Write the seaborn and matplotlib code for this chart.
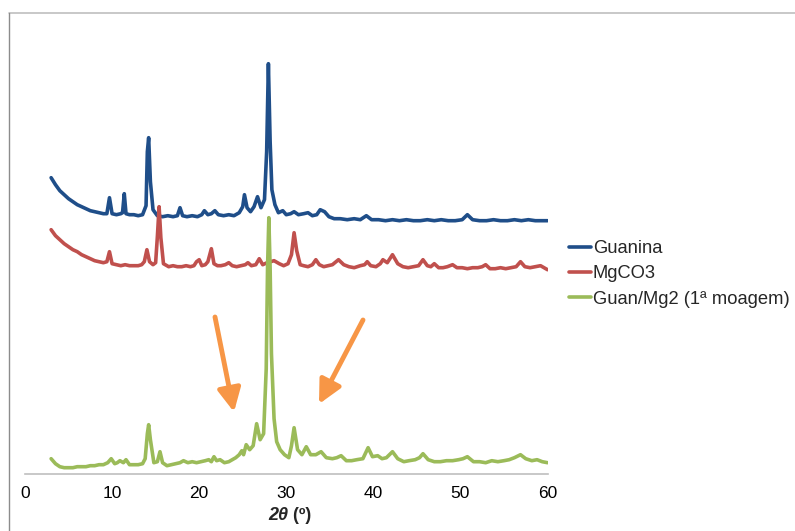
import matplotlib
matplotlib.use("Agg")
import matplotlib.pyplot as plt
import seaborn as sns
import pandas as pd
from matplotlib.lines import Line2D

# ---------------- data ----------------
series_names = ["Guanina", "MgCO3", "Guan/Mg2 (1ª moagem)"]
series_colors = ["#1F4E89", "#C0504D", "#9BBB59"]

guanina_x = [3.0, 3.5, 4.0, 4.5, 5.0, 5.5, 6.0, 6.5, 7.0, 7.5, 8.0, 8.5, 9.0, 9.4, 9.7, 10.0, 10.5, 11.0, 11.2, 11.4,
             11.6, 12.0, 12.5, 13.0, 13.5, 13.9, 14.05, 14.2, 14.4, 14.7, 15.2, 15.8, 16.4, 17.0, 17.5, 17.8, 18.1, 18.6,
             19.2, 19.8, 20.3, 20.6, 21.0, 21.4, 21.8, 22.2, 22.8, 23.4, 24.0, 24.6, 25.0, 25.2, 25.5, 25.9, 26.3, 26.7,
             27.1, 27.5, 27.75, 27.95, 28.15, 28.35, 28.7, 29.1, 29.6, 30.0, 30.5, 30.9, 31.4, 32.0, 32.5, 33.0, 33.5,
             33.9, 34.4, 34.9, 35.5, 36.2, 37.0, 37.8, 38.5, 39.2, 39.8, 40.6, 41.4, 42.2, 43.0, 43.8, 44.6, 45.4, 46.2,
             47.0, 47.8, 48.6, 49.4, 50.2, 50.8, 51.4, 52.2, 53.0, 53.8, 54.6, 55.4, 56.2, 57.0, 57.8, 58.6, 59.3, 60.0]
guanina_y = [296, 289, 283, 279, 275, 272, 269, 267, 265, 263, 262, 261, 260, 260, 276, 260, 259, 260, 261, 280,
             260, 259, 259, 258, 259, 268, 322, 336, 292, 264, 258, 257, 258, 257, 258, 266, 258, 257,
             258, 257, 259, 263, 259, 260, 263, 259, 258, 259, 258, 261, 267, 279, 266, 262, 267, 277,
             266, 274, 322, 410, 332, 284, 269, 261, 263, 259, 260, 262, 259, 260, 261, 258, 259,
             264, 262, 257, 255, 255, 254, 255, 254, 258, 254, 254, 253, 254, 253, 254, 253, 253, 254,
             253, 254, 253, 253, 254, 259, 254, 253, 253, 254, 253, 253, 254, 253, 254, 253, 253, 253]

mgco3_x = [3.0, 3.5, 4.0, 4.5, 5.0, 5.5, 6.0, 6.5, 7.0, 7.5, 8.0, 8.5, 9.0, 9.4, 9.7, 10.0, 10.5, 11.0, 11.5, 12.0,
           12.5, 13.0, 13.4, 13.7, 14.0, 14.3, 14.7, 15.0, 15.2, 15.4, 15.6, 15.9, 16.5, 17.0, 17.5, 18.0, 18.5, 19.0,
           19.4, 19.7, 20.0, 20.3, 20.7, 21.0, 21.4, 21.7, 22.1, 22.5, 23.0, 23.4, 23.8, 24.3, 24.8, 25.3, 25.6, 26.0,
           26.5, 26.9, 27.3, 27.8, 28.2, 28.6, 29.2, 29.7, 30.2, 30.6, 30.9, 31.2, 31.6, 32.0, 32.5, 33.0, 33.4, 33.8,
           34.3, 34.8, 35.3, 36.0, 36.6, 37.2, 37.8, 38.5, 39.0, 39.3, 39.7, 40.3, 40.8, 41.1, 41.6, 42.2, 42.8, 43.4,
           44.0, 44.6, 45.2, 45.7, 46.2, 46.6, 47.0, 47.5, 48.0, 48.5, 49.1, 49.6, 50.2, 50.8, 51.4, 52.0, 52.5, 52.9,
           53.4, 54.0, 54.6, 55.2, 55.8, 56.4, 56.9, 57.4, 58.0, 58.6, 59.2, 59.6, 60.0]
mgco3_y = [244, 238, 234, 230, 227, 224, 222, 219, 217, 215, 213, 212, 211, 212, 222, 210, 209, 208, 209, 208,
           208, 208, 209, 212, 224, 212, 209, 211, 237, 267, 236, 210, 207, 208, 207, 207, 208, 207,
           208, 212, 214, 208, 209, 212, 225, 210, 208, 208, 209, 211, 208, 207, 208, 209, 211, 208,
           209, 215, 209, 211, 212, 213, 210, 208, 210, 219, 241, 223, 209, 208, 207, 209, 214, 209,
           207, 208, 209, 214, 209, 207, 206, 208, 209, 212, 208, 207, 210, 214, 211, 219, 210, 207,
           206, 207, 208, 214, 208, 207, 210, 206, 206, 207, 209, 206, 206, 205, 206, 206, 207, 209,
           205, 205, 206, 205, 206, 207, 212, 207, 206, 207, 208, 206, 204]

guanmg_x = [3.0, 3.5, 4.0, 4.5, 5.0, 5.5, 6.0, 6.5, 7.0, 7.5, 8.0, 8.5, 9.0, 9.5, 9.9, 10.3, 10.6, 10.9, 11.3, 11.6,
            12.0, 12.5, 13.0, 13.5, 13.8, 14.05, 14.2, 14.4, 14.8, 15.2, 15.5, 15.8, 16.3, 16.8, 17.3, 17.8, 18.2,
            18.7, 19.2, 19.7, 20.2, 20.7, 21.1, 21.4, 21.7, 22.0, 22.4, 22.9, 23.4, 23.8, 24.2, 24.6, 24.9, 25.1,
            25.4, 25.8, 26.2, 26.6, 27.0, 27.4, 27.7, 27.85, 28.0, 28.15, 28.3, 28.6, 28.9, 29.3, 29.8, 30.3, 30.6,
            30.9, 31.3, 31.8, 32.3, 32.8, 33.4, 34.0, 34.6, 35.3, 35.8, 36.3, 36.9, 37.5, 38.1, 38.8, 39.4, 39.9,
            40.5, 41.0, 41.5, 42.2, 42.8, 43.5, 44.1, 44.8, 45.3, 45.7, 46.3, 47.0, 47.7, 48.4, 49.1, 49.8, 50.3,
            50.8, 51.5, 52.2, 52.9, 53.6, 54.3, 55.0, 55.6, 56.2, 56.9, 57.5, 58.2, 58.8, 59.4, 60.0]
guanmg_y = [15, 10, 7, 6, 6, 6, 7, 7, 7, 8, 8, 9, 9, 11, 15, 10, 11, 13, 11, 14,
            9, 9, 9, 10, 15, 40, 49, 34, 11, 12, 22, 11, 8, 9, 10, 11, 13,
            11, 12, 11, 12, 13, 14, 12, 17, 13, 14, 11, 12, 14, 16, 19, 23, 19,
            29, 24, 28, 50, 34, 40, 105, 205, 256, 205, 120, 55, 32, 24, 19, 16, 28,
            46, 24, 19, 27, 19, 19, 22, 16, 15, 16, 18, 13, 13, 14, 15, 26, 17,
            18, 15, 16, 22, 15, 12, 13, 14, 16, 20, 14, 12, 12, 13, 13, 14, 15,
            17, 12, 12, 11, 13, 12, 13, 14, 16, 19, 15, 13, 14, 12, 11]

x_ticks = [0, 10, 20, 30, 40, 50, 60]

# ---------------- figure ----------------
sns.set_style("white")
plt.rcParams["font.family"] = ["Liberation Sans", "DejaVu Sans"]

W, H = 795, 531
fig = plt.figure(figsize=(W / 100, H / 100), dpi=100)
ax_left, ax_right, ax_bottom, ax_top = 25, 547.5, 473.7, 53
ax = fig.add_axes([ax_left / W, (H - ax_bottom) / H, (ax_right - ax_left) / W, (ax_bottom - ax_top) / H])

frames = []
for name, xs, ys in zip(series_names, [guanina_x, mgco3_x, guanmg_x], [guanina_y, mgco3_y, guanmg_y]):
    assert len(xs) == len(ys), name
    frames.append(pd.DataFrame({"x": xs, "y": ys, "serie": name}))
df = pd.concat(frames, ignore_index=True)

for name, color in zip(series_names, series_colors):
    sns.lineplot(data=df[df["serie"] == name], x="x", y="y", color=color, lw=2.6,
                 estimator=None, sort=False, ax=ax, legend=False)

ax.set_xlim(0, 60)
ax.set_ylim(0, ax_bottom - ax_top)
ax.set_xticks(x_ticks)
ax.set_xticklabels([str(t) for t in x_ticks])
ax.set_yticks([])
ax.set_xlabel("")
ax.set_ylabel("")
ax.tick_params(axis="x", length=0, pad=9, labelsize=12.5, colors="black")
for s in ["top", "right", "left"]:
    ax.spines[s].set_visible(False)
ax.spines["bottom"].set_color("#BFBFBF")
ax.spines["bottom"].set_linewidth(1.2)
ax.patch.set_alpha(0)

# x label: bold italic 2θ followed by bold (º)
xc = (ax_left + ax_right) / 2 / W
yl = (H - 516) / H
fig.text(xc + 0.002, yl, "2θ", fontsize=13, fontweight="bold", fontstyle="italic", ha="right", va="center")
fig.text(xc + 0.002, yl, " (º)", fontsize=13, fontweight="bold", ha="left", va="center")

# legend
handles = [Line2D([0], [0], color=c, lw=2.6) for c in series_colors]
fig.legend(handles, series_names, loc="upper left", bbox_to_anchor=(569 / W, 1 - 240 / H),
           frameon=False, fontsize=13.2, handlelength=1.2, handletextpad=0.1, labelspacing=0.45,
           borderaxespad=0, borderpad=0)

# orange arrows
arrow_kw = dict(arrowstyle="-|>,head_length=0.7,head_width=0.35", color="#F79646", lw=3.5,
                mutation_scale=20, shrinkA=0, shrinkB=0)
ax.annotate("", xy=(234, H - 412), xytext=(215, H - 317), xycoords="figure pixels",
            textcoords="figure pixels", arrowprops=arrow_kw)
ax.annotate("", xy=(319, H - 404), xytext=(363, H - 320), xycoords="figure pixels",
            textcoords="figure pixels", arrowprops=arrow_kw)

# chart area border (top and left visible)
fig.add_artist(Line2D([9 / W, 1.0], [1 - 13 / H, 1 - 13 / H], color="#BFBFBF", lw=1.2, transform=fig.transFigure))
fig.add_artist(Line2D([9 / W, 9 / W], [0, 1 - 13 / H], color="#8C8C8C", lw=1.0, transform=fig.transFigure))

fig.savefig("out.png", dpi=100)
